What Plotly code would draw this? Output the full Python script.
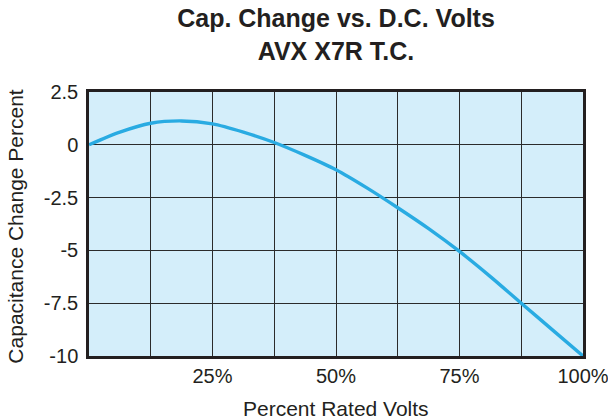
import plotly.graph_objects as go

# Data
volts_pct = [0, 6.25, 12.5, 18.75, 25, 31.25, 37.5, 43.75, 50, 56.25, 62.5, 68.75, 75, 81.25, 87.5, 93.75, 100]
cap_change = [0, 0.6, 1.02, 1.13, 0.99, 0.6, 0.11, -0.5, -1.18, -2.04, -2.98, -3.97, -5.05, -6.24, -7.5, -8.75, -10]

x_tickvals = [0, 12.5, 25, 37.5, 50, 62.5, 75, 87.5, 100]
x_ticktext = ["", "", "25%", "", "50%", "", "75%", "", "100%"]
y_tickvals = [2.5, 0, -2.5, -5, -7.5, -10]
y_ticktext = ["2.5", "0", "-2.5", "-5", "-7.5", "-10"]

title_text = "<b>Cap. Change vs. D.C. Volts<br>AVX X7R T.C.</b>"
x_title = "Percent Rated Volts"
y_title = "Capacitance Change Percent"

fig = go.Figure()
fig.add_trace(go.Scatter(
    x=volts_pct, y=cap_change, mode="lines",
    line=dict(color="#29abe2", width=3.4, shape="spline", smoothing=0.8),
    hoverinfo="skip", showlegend=False,
))

font_family = "Liberation Sans, Arial, Helvetica, sans-serif"
text_color = "#231f20"

fig.update_layout(
    width=608, height=419,
    margin=dict(l=89, r=25, t=92, b=63),
    paper_bgcolor="white",
    plot_bgcolor="#d4eefa",
    font=dict(family=font_family, size=20, color=text_color),
    title=dict(
        text=title_text,
        x=336 / 608, xanchor="center", xref="container",
        y=1 - 27 / 419, yanchor="top", yref="container",
        font=dict(family=font_family, size=25, color=text_color),
    ),
    annotations=[
        dict(text=x_title, xref="paper", yref="paper", x=0.5, y=-(408 - 356) / 264,
             xanchor="center", yanchor="middle", showarrow=False,
             font=dict(size=21, color=text_color)),
        dict(text=y_title, xref="paper", yref="paper", x=(16 - 89) / 494, y=0.49,
             xanchor="center", yanchor="middle", showarrow=False, textangle=-90,
             font=dict(size=21, color=text_color)),
    ],
)
fig.update_xaxes(
    range=[0, 100], tickvals=x_tickvals, ticktext=x_ticktext,
    showgrid=True, gridcolor="#2b2b2b", gridwidth=1.2,
    showline=True, linecolor=text_color, linewidth=2.5, mirror=True,
    zeroline=False, ticks="", automargin=False, ticklabeloverflow="allow",
    tickfont=dict(size=20, color=text_color),
)
fig.update_yaxes(
    range=[-10, 2.5], tickvals=y_tickvals, ticktext=y_ticktext,
    showgrid=True, gridcolor="#2b2b2b", gridwidth=1.2,
    showline=True, linecolor=text_color, linewidth=2.5, mirror=True,
    zeroline=False, ticks="", automargin=False, ticklabelstandoff=4,
    tickfont=dict(size=20, color=text_color),
)

fig.write_html(
    "out.html",
    config={"displayModeBar": False},
    post_script="document.body.style.margin='0';document.body.style.padding='0';",
)
